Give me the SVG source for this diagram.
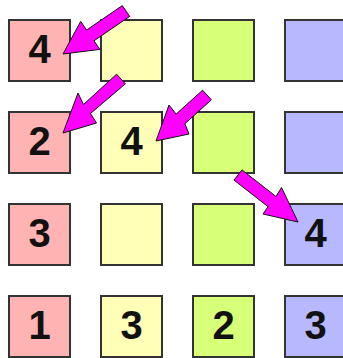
<svg xmlns="http://www.w3.org/2000/svg" width="343" height="358" viewBox="0 0 343 358">
<style>
rect{stroke:#333;stroke-width:2}
.p{fill:#ffb3b3}.y{fill:#ffffb8}.g{fill:#d8ff78}.b{fill:#b8b8ff}
text{font-family:"Liberation Sans",Arial,sans-serif;font-weight:bold;font-size:40px;text-anchor:middle;fill:#111}
.arrow{fill:#ff00ff;stroke:#111;stroke-width:1;stroke-linejoin:miter}
</style>
<rect width="343" height="358" fill="#fff" style="stroke:none"/>
<g id="r1c1"><rect class="p" x="9" y="20" width="61" height="61"/><text x="39.5" y="63">4</text></g>
<g id="r1c2"><rect class="y" x="101" y="20" width="61" height="61"/></g>
<g id="r1c3"><rect class="g" x="193" y="20" width="61" height="61"/></g>
<g id="r1c4"><rect class="b" x="285" y="20" width="61" height="61"/></g>
<g id="r2c1"><rect class="p" x="9" y="112" width="61" height="61"/><text x="39.5" y="155">2</text></g>
<g id="r2c2"><rect class="y" x="101" y="112" width="61" height="61"/><text x="131.5" y="155">4</text></g>
<g id="r2c3"><rect class="g" x="193" y="112" width="61" height="61"/></g>
<g id="r2c4"><rect class="b" x="285" y="112" width="61" height="61"/></g>
<g id="r3c1"><rect class="p" x="9" y="204" width="61" height="61"/><text x="39.5" y="247">3</text></g>
<g id="r3c2"><rect class="y" x="101" y="204" width="61" height="61"/></g>
<g id="r3c3"><rect class="g" x="193" y="204" width="61" height="61"/></g>
<g id="r3c4"><rect class="b" x="285" y="204" width="61" height="61"/><text x="315.5" y="247">4</text></g>
<g id="r4c1"><rect class="p" x="9" y="296" width="61" height="61"/><text x="39.5" y="339">1</text></g>
<g id="r4c2"><rect class="y" x="101" y="296" width="61" height="61"/><text x="131.5" y="339">3</text></g>
<g id="r4c3"><rect class="g" x="193" y="296" width="61" height="61"/><text x="223.5" y="339">2</text></g>
<g id="r4c4"><rect class="b" x="285" y="296" width="61" height="61"/><text x="315.5" y="339">3</text></g>
<g id="connectors">
<polygon class="arrow" points="63,54 80.7,21.4 86.6,30 122.3,5.6 129.7,16.4 94,40.8 99.9,49.4"/>
<polygon class="arrow" points="63,133 78,93 83.5,104.5 116.6,74.2 125.4,83.8 90.5,113.5 96.5,123"/>
<polygon class="arrow" points="156,141 169,105 176.1,114.1 202.6,90.2 211.4,99.8 184.9,123.7 189,134"/>
<polygon class="arrow" points="298,222 263,214 268,206.7 234,180.1 242,169.9 276,196.5 281.5,187.5"/>
</g>
</svg>
